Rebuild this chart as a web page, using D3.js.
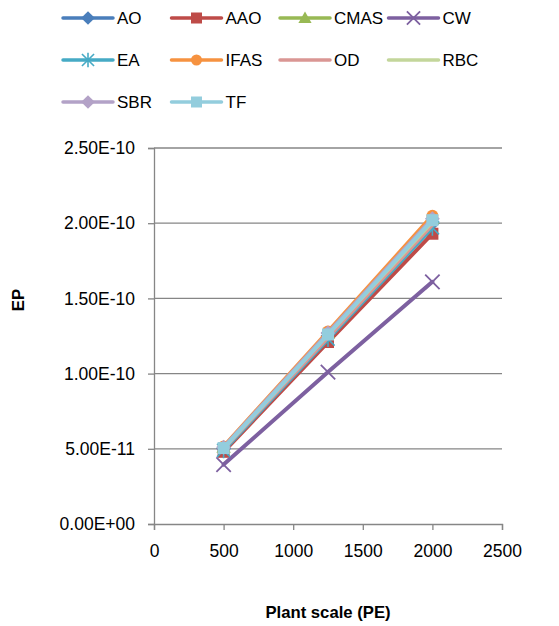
<!DOCTYPE html>
<html>
<head>
<meta charset="utf-8">
<script src="https://cdn.jsdelivr.net/npm/d3@7"></script>
<style>
  html, body { margin: 0; padding: 0; background: #fff; }
  svg text { font-family: "Liberation Sans", Arial, sans-serif; fill: #000; }
</style>
</head>
<body>
<svg id="chart" width="559" height="626"></svg>
<script>
// Plant scale (population equivalent) on the x axis
const scales = [500, 1250, 2000];

// Eutrophication potential per treatment technology
const seriesNames = ["AO", "AAO", "CMAS", "CW", "EA", "IFAS", "OD", "RBC", "SBR", "TF"];
const AO   = [5.00e-11, 1.25e-10, 2.00e-10];
const AAO  = [4.80e-11, 1.21e-10, 1.93e-10];
const CMAS = [5.10e-11, 1.27e-10, 2.03e-10];
const CW   = [3.95e-11, 1.01e-10, 1.61e-10];
const EA   = [4.90e-11, 1.23e-10, 1.97e-10];
const IFAS = [5.15e-11, 1.28e-10, 2.05e-10];
const OD   = [5.00e-11, 1.24e-10, 1.99e-10];
const RBC  = [5.05e-11, 1.26e-10, 2.01e-10];
const SBR  = [5.10e-11, 1.27e-10, 2.03e-10];
const TF   = [5.05e-11, 1.26e-10, 2.02e-10];
const seriesValues = [AO, AAO, CMAS, CW, EA, IFAS, OD, RBC, SBR, TF];

const seriesColors = ["#4A7EBB", "#BE4B48", "#98B954", "#7D60A0", "#46AAC5",
                      "#F69240", "#DA9694", "#C3D69B", "#B3A2C7", "#93CDDD"];
const seriesMarkers = ["diamond", "square", "triangle", "x", "star",
                       "circle", "none", "none", "diamond", "square"];

const xTicks = [0, 500, 1000, 1500, 2000, 2500];
const yTicks = [0, 5e-11, 1e-10, 1.5e-10, 2e-10, 2.5e-10];
const xTitle = "Plant scale (PE)";
const yTitle = "EP";

const svg = d3.select("#chart");
const plot = { left: 154, right: 502, top: 148, bottom: 524 };

const x = d3.scaleLinear().domain([0, 2500]).range([plot.left, plot.right]);
const y = d3.scaleLinear().domain([0, 2.5e-10]).range([plot.bottom, plot.top]);

const gridColor = "#868686";
const fmtY = v => v.toExponential(2).replace(/e([+-])(\d)$/, "E$10$2").replace("e", "E");

// horizontal gridlines
svg.append("g")
  .selectAll("line")
  .data(yTicks.filter(v => v > 0))
  .join("line")
  .attr("x1", plot.left).attr("x2", plot.right)
  .attr("y1", d => y(d)).attr("y2", d => y(d))
  .attr("stroke", gridColor).attr("stroke-width", 1.3);

// y axis
const yAxis = svg.append("g")
  .attr("transform", `translate(${plot.left},0)`)
  .call(d3.axisLeft(y).tickValues(yTicks).tickSize(6).tickPadding(13).tickFormat(fmtY));
yAxis.select(".domain").attr("stroke", gridColor).attr("stroke-width", 1.3);
yAxis.selectAll(".tick line").attr("stroke", gridColor).attr("stroke-width", 1.3);
yAxis.selectAll(".tick text").attr("font-size", 17.5).attr("font-family", "Liberation Sans, Arial, sans-serif");

// x axis
const xAxis = svg.append("g")
  .attr("transform", `translate(0,${plot.bottom})`)
  .call(d3.axisBottom(x).tickValues(xTicks).tickSize(6).tickPadding(15).tickFormat(d3.format("d")));
xAxis.select(".domain").attr("stroke", gridColor).attr("stroke-width", 1.3);
xAxis.selectAll(".tick line").attr("stroke", gridColor).attr("stroke-width", 1.3);
xAxis.selectAll(".tick text").attr("font-size", 17.5).attr("font-family", "Liberation Sans, Arial, sans-serif");

// axis titles
svg.append("text")
  .attr("x", (plot.left + plot.right) / 2).attr("y", 618)
  .attr("text-anchor", "middle").attr("font-size", 16.7).attr("font-weight", "bold")
  .text(xTitle);
svg.append("text")
  .attr("transform", "translate(24,300) rotate(-90)")
  .attr("text-anchor", "middle").attr("font-size", 16.7).attr("font-weight", "bold")
  .text(yTitle);

// marker shapes
function drawMarker(g, type, color, size) {
  const s = size;
  if (type === "diamond") {
    g.append("path").attr("d", `M0,${-s * 0.62}L${s * 0.62},0L0,${s * 0.62}L${-s * 0.62},0Z`).attr("fill", color);
  } else if (type === "square") {
    g.append("rect").attr("x", -s / 2).attr("y", -s / 2).attr("width", s).attr("height", s).attr("fill", color);
  } else if (type === "triangle") {
    g.append("path").attr("d", `M0,${-s * 0.6}L${s * 0.6},${s * 0.45}L${-s * 0.6},${s * 0.45}Z`).attr("fill", color);
  } else if (type === "circle") {
    g.append("circle").attr("r", s / 2).attr("fill", color);
  } else if (type === "x") {
    const h = s * 0.6;
    g.append("path").attr("d", `M${-h},${-h}L${h},${h}M${-h},${h}L${h},${-h}`)
      .attr("stroke", color).attr("stroke-width", 1.8).attr("fill", "none");
  } else if (type === "star") {
    const h = s * 0.55;
    g.append("path").attr("d", `M${-h},${-h}L${h},${h}M${-h},${h}L${h},${-h}M0,${-h * 1.2}L0,${h * 1.2}`)
      .attr("stroke", color).attr("stroke-width", 1.6).attr("fill", "none");
  }
}

// series lines + markers
const line = d3.line().x((d, i) => x(scales[i])).y(d => y(d));
seriesValues.forEach((vals, k) => {
  const g = svg.append("g");
  g.append("path")
    .attr("d", line(vals))
    .attr("fill", "none")
    .attr("stroke", seriesColors[k])
    .attr("stroke-width", 4)
    .attr("stroke-linejoin", "round")
    .attr("stroke-linecap", "round");
  vals.forEach((v, i) => {
    const m = g.append("g").attr("transform", `translate(${x(scales[i])},${y(v)})`);
    drawMarker(m, seriesMarkers[k], seriesColors[k], 12);
  });
});

// legend, 4 columns
const legend = svg.append("g");
seriesNames.forEach((name, k) => {
  const col = k % 4, row = Math.floor(k / 4);
  const lx = 63 + col * 108.5, ly = 18 + row * 42;
  const g = legend.append("g").attr("transform", `translate(${lx},${ly})`);
  g.append("line").attr("x1", 0).attr("x2", 50).attr("y1", 0).attr("y2", 0)
    .attr("stroke", seriesColors[k]).attr("stroke-width", 3.5).attr("stroke-linecap", "round");
  const m = g.append("g").attr("transform", "translate(25,0)");
  drawMarker(m, seriesMarkers[k], seriesColors[k], 11);
  g.append("text").attr("x", 54).attr("y", 0).attr("dy", "0.36em")
    .attr("font-size", 17).text(name);
});
</script>
</body>
</html>
